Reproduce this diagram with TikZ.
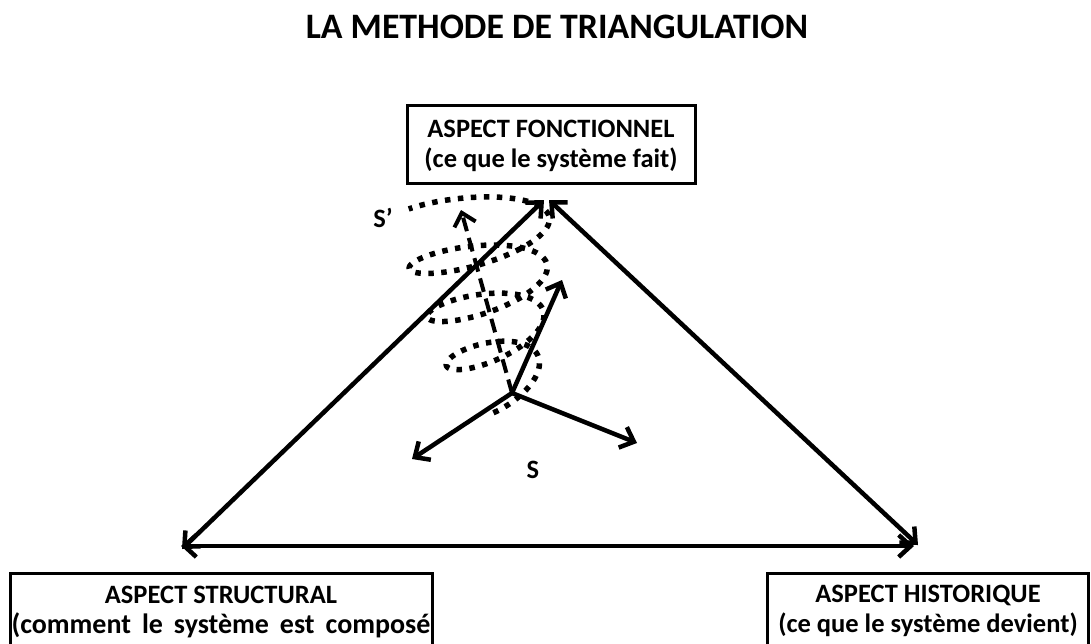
\documentclass[tikz,border=0pt]{standalone}
\usepackage{fontspec}
\setmainfont{Carlito}
\usetikzlibrary{arrows.meta}
\tikzset{
  boxnode/.style={draw=black, line width=3pt, align=center, font=\bfseries\fontsize{26.5}{29.5}\selectfont, inner sep=0pt},
  thick line/.style={line width=4.5pt},
  tip/.tip={Straight Barb[length=12pt,width=22pt]},
  barb/.style={-tip},
  dbarb/.style={tip-tip},
  dotted spiral/.style={line width=5.5pt, dash pattern=on 5.5pt off 7.5pt},
  dashed arrow/.style={line width=4pt, dash pattern=on 14pt off 7pt},
  lbl/.style={font=\bfseries\fontsize{26.5}{29.5}\selectfont, inner sep=0pt}
}
\begin{document}
\begin{tikzpicture}[x=1pt,y=-1pt]
\useasboundingbox (0,0) rectangle (1091,643);
\clip (0,0) rectangle (1091,643);
\fill[white] (0,0) rectangle (1091,643);

\node[font=\bfseries\fontsize{35.8}{40}\selectfont, inner sep=0pt] (title) at (557,27) {LA METHODE DE TRIANGULATION};

\node[boxnode, minimum width=288pt, minimum height=78pt] (fonc) at (551,144) {};
\node[lbl, align=center] (fonctxt) at (551,146) {ASPECT FONCTIONNEL\\(ce que le système fait)};
\node[boxnode, minimum width=422pt, minimum height=110pt, anchor=north] (struct) at (221,572) {};
\node[lbl, align=center] (structtxt) at (221,612) {ASPECT STRUCTURAL\\{\fontsize{28}{29.5}\selectfont\spaceskip=11pt (comment le système est composé}};
\node[boxnode, minimum width=321pt, minimum height=110pt, anchor=north] (hist) at (927.5,572) {};
\node[lbl, align=center] (histtxt) at (928,611) {ASPECT HISTORIQUE\\(ce que le système devient)};

% triangle vertices
\coordinate (apexL) at (544,200);
\coordinate (apexR) at (549,200);
\coordinate (left) at (182,549);
\coordinate (right) at (918,545);
\coordinate (bl) at (181,546);
\coordinate (br) at (914,546);

\draw[thick line, dbarb] (left) -- (apexL);
\draw[thick line, dbarb] (apexR) -- (right);
\draw[thick line, dbarb] (bl) -- (br);

% spiral
\draw[dotted spiral] plot[domain=0:1, samples=500, smooth, variable=\t]
  ({500-28*\t + (38+48*\t-8*\t*\t)*cos(-100+1325*\t)},
   {389-177*\t - 22*sin(-100+1325*\t) - 12*cos(-100+1325*\t)});

% S arrows
\coordinate (S) at (512,393);
\coordinate (sl) at (412,459);
\coordinate (sr) at (637,443);
\coordinate (su) at (562,280);
\coordinate (sd) at (461,210);
\draw[thick line, barb] (S) -- (sl);
\draw[thick line, barb] (S) -- (sr);
\draw[thick line, barb] (S) -- (su);
\draw[dashed arrow, -tip] (S) -- (sd);

\node[lbl] (Slabel) at (533,470) {S};
\node[lbl] (Sprime) at (383,218) {S’};
\end{tikzpicture}
\end{document}
